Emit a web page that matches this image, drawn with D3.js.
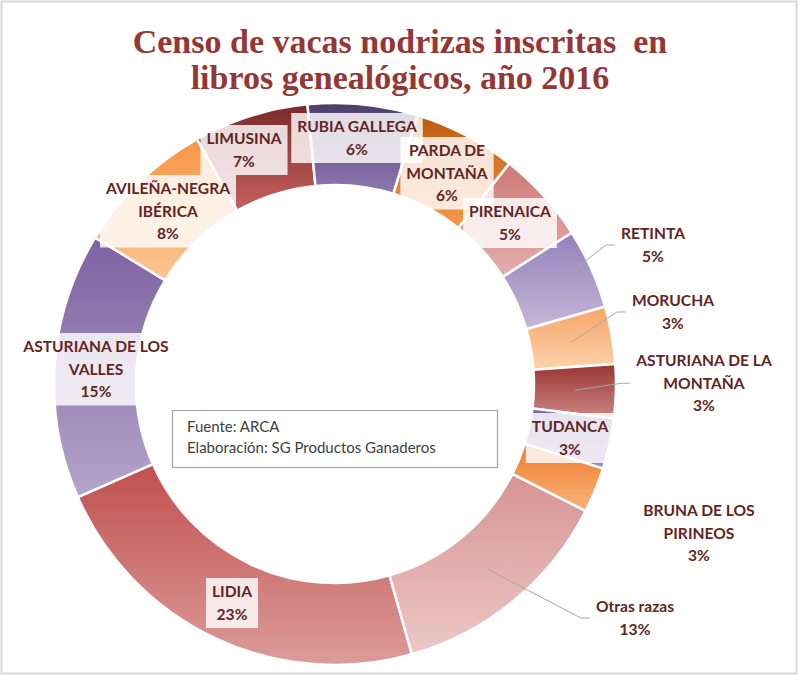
<!DOCTYPE html>
<meta charset="utf-8">
<script src="https://cdn.jsdelivr.net/npm/d3@7"></script>
<style>
  body { margin: 0; background: #fff; }
</style>
<svg></svg>
<script>
    // data (Excel order, drawn clockwise from Lidia)
    var breeds = ['LIDIA', 'ASTURIANA DE LOS VALLES', 'AVILEÑA-NEGRA IBÉRICA', 'LIMUSINA', 'RUBIA GALLEGA',
        'PARDA DE MONTAÑA', 'PIRENAICA', 'RETINTA', 'MORUCHA', 'ASTURIANA DE LA MONTAÑA', 'TUDANCA',
        'BRUNA DE LOS PIRINEOS', 'Otras razas'];
    var shares = [22.8, 15.3, 8.1, 6.6, 6.3, 5.9, 5.3, 4.6, 3.3, 3.1, 2.9, 2.6, 13.1];
    var labelLines = [['LIDIA'], ['ASTURIANA DE LOS', 'VALLES'], ['AVILEÑA-NEGRA', 'IBÉRICA'], ['LIMUSINA'],
        ['RUBIA GALLEGA'], ['PARDA DE', 'MONTAÑA'], ['PIRENAICA'], ['RETINTA'], ['MORUCHA'],
        ['ASTURIANA DE LA', 'MONTAÑA'], ['TUDANCA'], ['BRUNA DE LOS', 'PIRINEOS'], ['Otras razas']];
    var titleLines = ['Censo de vacas nodrizas inscritas  en', 'libros genealógicos, año 2016'];
    var sourceLines = ['Fuente: ARCA', 'Elaboración: SG Productos Ganaderos'];

    // styles
    var topColors = ['#c0504d', '#7e62a0', '#f79646', '#7a2a29', '#4e3c6b', '#b95a0e', '#cf7a78',
        '#9681ba', '#f6a568', '#9a3431', '#7e64a0', '#ee7b2c', '#d69492'];
    var bottomColors = ['#dc9c9a', '#b4a4ca', '#fbc594', '#c4625f', '#8f79b2', '#f89a4c', '#e5aeac',
        '#c4b8d9', '#fcd2ab', '#cd8785', '#a08dc1', '#fab47c', '#ecc8c7'];
    // label boxes: centre x, top y, leader line?
    var labelPos = [[232, 578, 0], [96, 333, 0], [168, 175, 0], [244, 125, 0], [357, 113, 0], [447, 137, 0],
        [510, 198, 0], [653, 220, 1], [673, 287, 1], [704, 347, 1], [570, 413, 0], [699, 497, 0], [635, 593, 1]];

    var W = 798, H = 677;
    var cx = 335, cy = 384, rOut = 281, rIn = 199;
    var startAngle = 164.1 * Math.PI / 180;
    var lineH = 22.5;

    var svg = d3.select('svg').attr('width', W).attr('height', H);

    svg.append('rect')
        .attr('x', 1.5).attr('y', 1.5)
        .attr('width', W - 3).attr('height', H - 5)
        .attr('fill', '#fff')
        .attr('stroke', '#d9d9d9').attr('stroke-width', 2);

    var defs = svg.append('defs');
    shares.forEach((d, i) => {
        var g = defs.append('linearGradient')
            .attr('id', 'g' + i)
            .attr('x1', 0).attr('y1', 0).attr('x2', 0).attr('y2', 1);
        g.append('stop').attr('offset', '0%').attr('stop-color', topColors[i]);
        g.append('stop').attr('offset', '100%').attr('stop-color', bottomColors[i]);
    });

    // title
    svg.append('g').selectAll('text').data(titleLines).enter().append('text')
        .attr('x', 400)
        .attr('y', (d, i) => 53 + i * 36)
        .attr('text-anchor', 'middle')
        .attr('font-family', 'Liberation Serif, serif')
        .attr('font-weight', 'bold')
        .attr('font-size', 34)
        .attr('fill', '#953735')
        .attr('xml:space', 'preserve')
        .text(d => d);

    var pie = d3.pie().sort(null).value(d => d)
        .startAngle(startAngle).endAngle(startAngle + 2 * Math.PI);
    var arc = d3.arc().innerRadius(rIn).outerRadius(rOut);
    var arcs = pie(shares);

    var chart = svg.append('g').attr('transform', 'translate(' + cx + ',' + cy + ')');
    chart.selectAll('path').data(arcs).enter().append('path')
        .attr('d', arc)
        .attr('fill', (d, i) => 'url(#g' + i + ')')
        .attr('stroke', '#fff')
        .attr('stroke-width', 2.5);

    // source box
    svg.append('rect')
        .attr('x', 172.5).attr('y', 410.5)
        .attr('width', 325).attr('height', 57)
        .attr('fill', '#fff')
        .attr('stroke', '#a6a6a6').attr('stroke-width', 1.2);
    svg.append('g').selectAll('text').data(sourceLines).enter().append('text')
        .attr('x', 187)
        .attr('y', (d, i) => 432 + i * 21)
        .attr('font-family', 'Lato, sans-serif')
        .attr('font-size', 15)
        .attr('fill', '#404040')
        .text(d => d);

    // labels
    var labels = svg.append('g').selectAll('g').data(arcs).enter().append('g');
    labels.each(function (d, i) {
        var g = d3.select(this);
        var lines = labelLines[i].concat([Math.round(shares[i]) + '%']);
        var pos = labelPos[i];
        var box = g.append('rect');
        var txt = g.selectAll('text').data(lines).enter().append('text')
            .attr('x', pos[0])
            .attr('y', (t, j) => pos[1] + 19 + j * lineH)
            .attr('text-anchor', 'middle')
            .attr('font-family', 'Lato, sans-serif')
            .attr('font-weight', 'bold')
            .attr('font-size', 15.6)
            .attr('fill', '#632523')
            .text(t => t);
        var w = d3.max(txt.nodes(), n => n.getComputedTextLength()) + 12;
        var h = lines.length * lineH + 5;
        box.attr('x', pos[0] - w / 2).attr('y', pos[1])
            .attr('width', w).attr('height', h)
            .attr('fill', '#fff').attr('fill-opacity', 0.82);
        if (pos[2]) {
            var c = arc.centroid(d);
            var ly = pos[1] + h / 2;
            var lx = pos[0] - w / 2;
            g.insert('polyline', 'rect')
                .attr('points', [[cx + c[0], cy + c[1]], [lx - 9, ly], [lx, ly]].join(' '))
                .attr('fill', 'none')
                .attr('stroke', '#a6a6a6')
                .attr('stroke-width', 1);
        }
    });
</script>
